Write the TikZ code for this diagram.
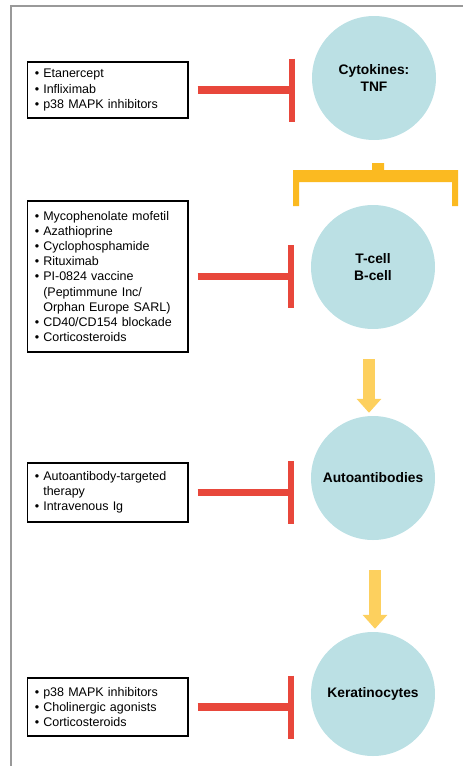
\documentclass[tikz,border=0pt]{standalone}
\usepackage{fontspec}
\setmainfont{Liberation Sans}
\usetikzlibrary{arrows.meta}

\definecolor{cellblue}{HTML}{BBE0E4}
\definecolor{blockred}{HTML}{E8473B}
\definecolor{bracketyellow}{HTML}{FBBA21}
\definecolor{flowyellow}{HTML}{FDD05E}

\newcommand{\hang}{\phantom{\textbullet\ }}

\begin{document}
\begin{tikzpicture}[x=1pt, y=-1pt,
  target/.style={circle, fill=cellblue, minimum size=124pt, inner sep=0pt, align=center,
    font=\fontsize{13.8}{16.5}\selectfont\bfseries},
  drugs/.style={draw, line width=1.5pt, text width=145.5pt, inner xsep=7.5pt, inner ysep=0pt,
    align=left, font=\fontsize{12.5}{15.2}\selectfont},
  inhibit/.style={draw=blockred, line width=7.5pt, -{Bar[width=63pt, line width=6pt]},
    shorten <=9pt, shorten >=17pt},
  flow/.style={draw=flowyellow, line width=12pt, -{Triangle[width=24pt, length=14pt]},
    shorten <=30pt, shorten >=3pt}]

\useasboundingbox (0,0) rectangle (463,766);

% frame
\draw[gray!80, line width=1.2pt] (11,766) -- (11,6) -- (463,6);

% targets
\node[target] (cyto) at (374,78) {Cytokines:\\TNF};
\node[target] (tcell) at (373,267) {T-cell\\B-cell};
\node[target] (autoab) at (373,478) {Autoantibodies};
\node[target] (kera) at (373,694) {Keratinocytes};

% treatments
\node[drugs, minimum height=56pt] (drugsA) at (107.5,90) {\textbullet\ Etanercept\\
  \textbullet\ Infliximab\\
  \textbullet\ p38 MAPK inhibitors};
\node[drugs, minimum height=151pt] (drugsB) at (107.5,276.5) {\textbullet\ Mycophenolate mofetil\\
  \textbullet\ Azathioprine\\
  \textbullet\ Cyclophosphamide\\
  \textbullet\ Rituximab\\
  \textbullet\ PI-0824 vaccine\\
  \hang(Peptimmune Inc/\\
  \hang Orphan Europe SARL)\\
  \textbullet\ CD40/CD154 blockade\\
  \textbullet\ Corticosteroids};
\node[drugs, minimum height=59pt] (drugsC) at (107.5,492.5) {\textbullet\ Autoantibody-targeted\\
  \hang therapy\\
  \textbullet\ Intravenous Ig};
\node[drugs, minimum height=58pt] (drugsD) at (107.5,707) {\textbullet\ p38 MAPK inhibitors\\
  \textbullet\ Cholinergic agonists\\
  \textbullet\ Corticosteroids};

% inhibition
\draw[inhibit] (drugsA.east) -- (drugsA.east -| cyto.west);
\draw[inhibit] (drugsB.east) -- (drugsB.east -| tcell.west);
\draw[inhibit] (drugsC.east) -- (drugsC.east -| autoab.west);
\draw[inhibit] (drugsD.east) -- (drugsD.east -| kera.west);

% bracket over T-cell/B-cell
\fill[bracketyellow] (293,206) -- (293,170) -- (372,170) -- (372,163) -- (384,163) -- (384,170)
  -- (458,170) -- (458,206) -- (452,206) -- (452,182) -- (299,182) -- (299,206) -- cycle;

% flow
\draw[flow] ([xshift=-4pt]tcell.south) -- ([xshift=-4pt]autoab.north);
\draw[flow] ([xshift=2pt]autoab.south) -- ([xshift=2pt]kera.north);

\end{tikzpicture}
\end{document}
